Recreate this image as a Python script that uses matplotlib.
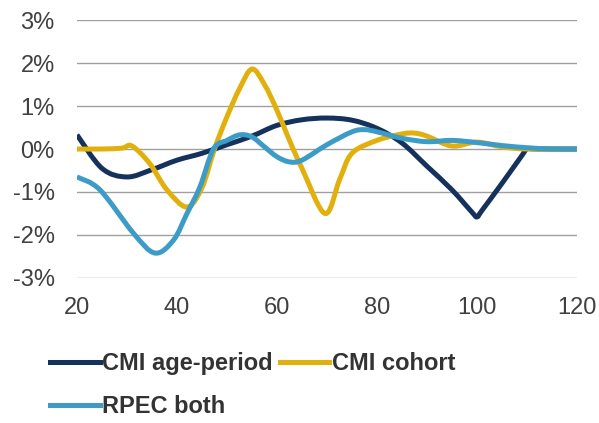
import matplotlib
matplotlib.use("Agg")
import matplotlib.pyplot as plt
import numpy as np
from matplotlib.path import Path
from matplotlib.patches import PathPatch
from matplotlib.lines import Line2D
from matplotlib.ticker import FuncFormatter

plt.rcParams["font.family"] = ["Liberation Sans", "DejaVu Sans"]

# values (% difference), by age
ap_age = [20, 25, 30, 35, 40, 45, 50, 55, 60, 65, 70, 75, 80, 85, 90, 95, 99, 100, 101,
          105, 109, 110, 112, 120]
ap_val = [0.33, -0.45, -0.65, -0.48, -0.26, -0.1, 0.1, 0.3, 0.55, 0.68, 0.72, 0.67, 0.48, 0.14,
          -0.4, -0.95, -1.47, -1.58, -1.43, -0.8, -0.15, 0.0, 0.0, 0.0]

coh_age = [20, 25, 29, 31, 34.5, 38, 42, 45, 47.5, 50, 52.5, 55, 57.5, 60, 62.5, 65, 69.6,
           72.5, 75, 80, 85, 87.5, 90, 95, 100, 105, 110, 120]
coh_val = [0.0, 0.0, 0.02, 0.07, -0.33, -0.95, -1.35, -0.9, 0.0, 0.75, 1.4, 1.86, 1.5, 0.9,
           0.2, -0.45, -1.5, -0.72, -0.1, 0.2, 0.35, 0.37, 0.3, 0.07, 0.16, 0.05, 0.0, 0.0]

rp_age = [20, 24.6, 31.3, 35.6, 39.3, 42, 44.6, 47.3, 50, 52.6, 55, 57.5, 60, 62.5, 65, 70,
          75, 77.5, 80, 85, 90, 95, 100, 105, 110, 115, 120]
rp_val = [-0.65, -0.95, -1.96, -2.42, -2.12, -1.5, -0.88, 0.0, 0.2, 0.33, 0.28, 0.05, -0.18,
          -0.3, -0.26, 0.1, 0.4, 0.45, 0.4, 0.25, 0.17, 0.2, 0.15, 0.08, 0.03, 0.0, 0.0]

labels = ["CMI age-period", "CMI cohort", "RPEC both"]
colors = ["#15325C", "#E1B00C", "#3D9CC7"]


def smooth_path(xs, ys):
    # Catmull-Rom style bezier through the points (like Excel "smoothed line")
    pts = np.column_stack([np.asarray(xs, float), np.asarray(ys, float)])
    verts = [pts[0]]
    codes = [Path.MOVETO]
    n = len(pts)
    for i in range(n - 1):
        p0 = pts[i - 1] if i > 0 else pts[i]
        p1 = pts[i]
        p2 = pts[i + 1]
        p3 = pts[i + 2] if i + 2 < n else pts[i + 1]
        c1 = p1 + (p2 - p0) / 6.0
        c2 = p2 - (p3 - p1) / 6.0
        verts += [c1, c2, p2]
        codes += [Path.CURVE4] * 3
    return Path(verts, codes)


fig = plt.figure(figsize=(5.99, 4.23), dpi=100)
ax = fig.add_axes([0.1285, 0.3428, 0.8347, 0.6099])

series = [(ap_age, ap_val), (coh_age, coh_val), (rp_age, rp_val)]
handles = []
for (xs, ys), lab, col in zip(series, labels, colors):
    patch = PathPatch(smooth_path(xs, ys), facecolor="none", edgecolor=col,
                      linewidth=3.6, capstyle="butt", joinstyle="round", zorder=3)
    ax.add_patch(patch)
    handles.append(Line2D([], [], color=col, linewidth=3.6, label=lab))

ax.set_xlim(20, 120)
ax.set_ylim(-3, 3)
ax.set_xticks([20, 40, 60, 80, 100, 120])
ax.set_yticks([-3, -2, -1, 0, 1, 2, 3])
ax.yaxis.set_major_formatter(FuncFormatter(lambda v, p: f"{v:.0f}%"))
ax.grid(axis="y", color="#A0A0A0", linewidth=1.0)
ax.set_axisbelow(True)
for s in ax.spines.values():
    s.set_visible(False)
ax.tick_params(axis="both", length=0, labelsize=17, colors="#404040")
ax.tick_params(axis="y", pad=16)
ax.tick_params(axis="x", pad=14)

# row-wise order: age-period, cohort on first row; RPEC on second
leg = fig.legend([handles[0], handles[2], handles[1]],
                 [labels[0], labels[2], labels[1]],
                 loc="upper left", bbox_to_anchor=(50 / 599, 1 - 352 / 423),
                 ncol=2, frameon=False, fontsize=17, handlelength=2.1,
                 handletextpad=0.1, columnspacing=0.3, labelspacing=0.85,
                 borderpad=0, borderaxespad=0)
for t in leg.get_texts():
    t.set_color("#333333")
    t.set_fontweight("bold")

fig.savefig("out.png", dpi=100)
